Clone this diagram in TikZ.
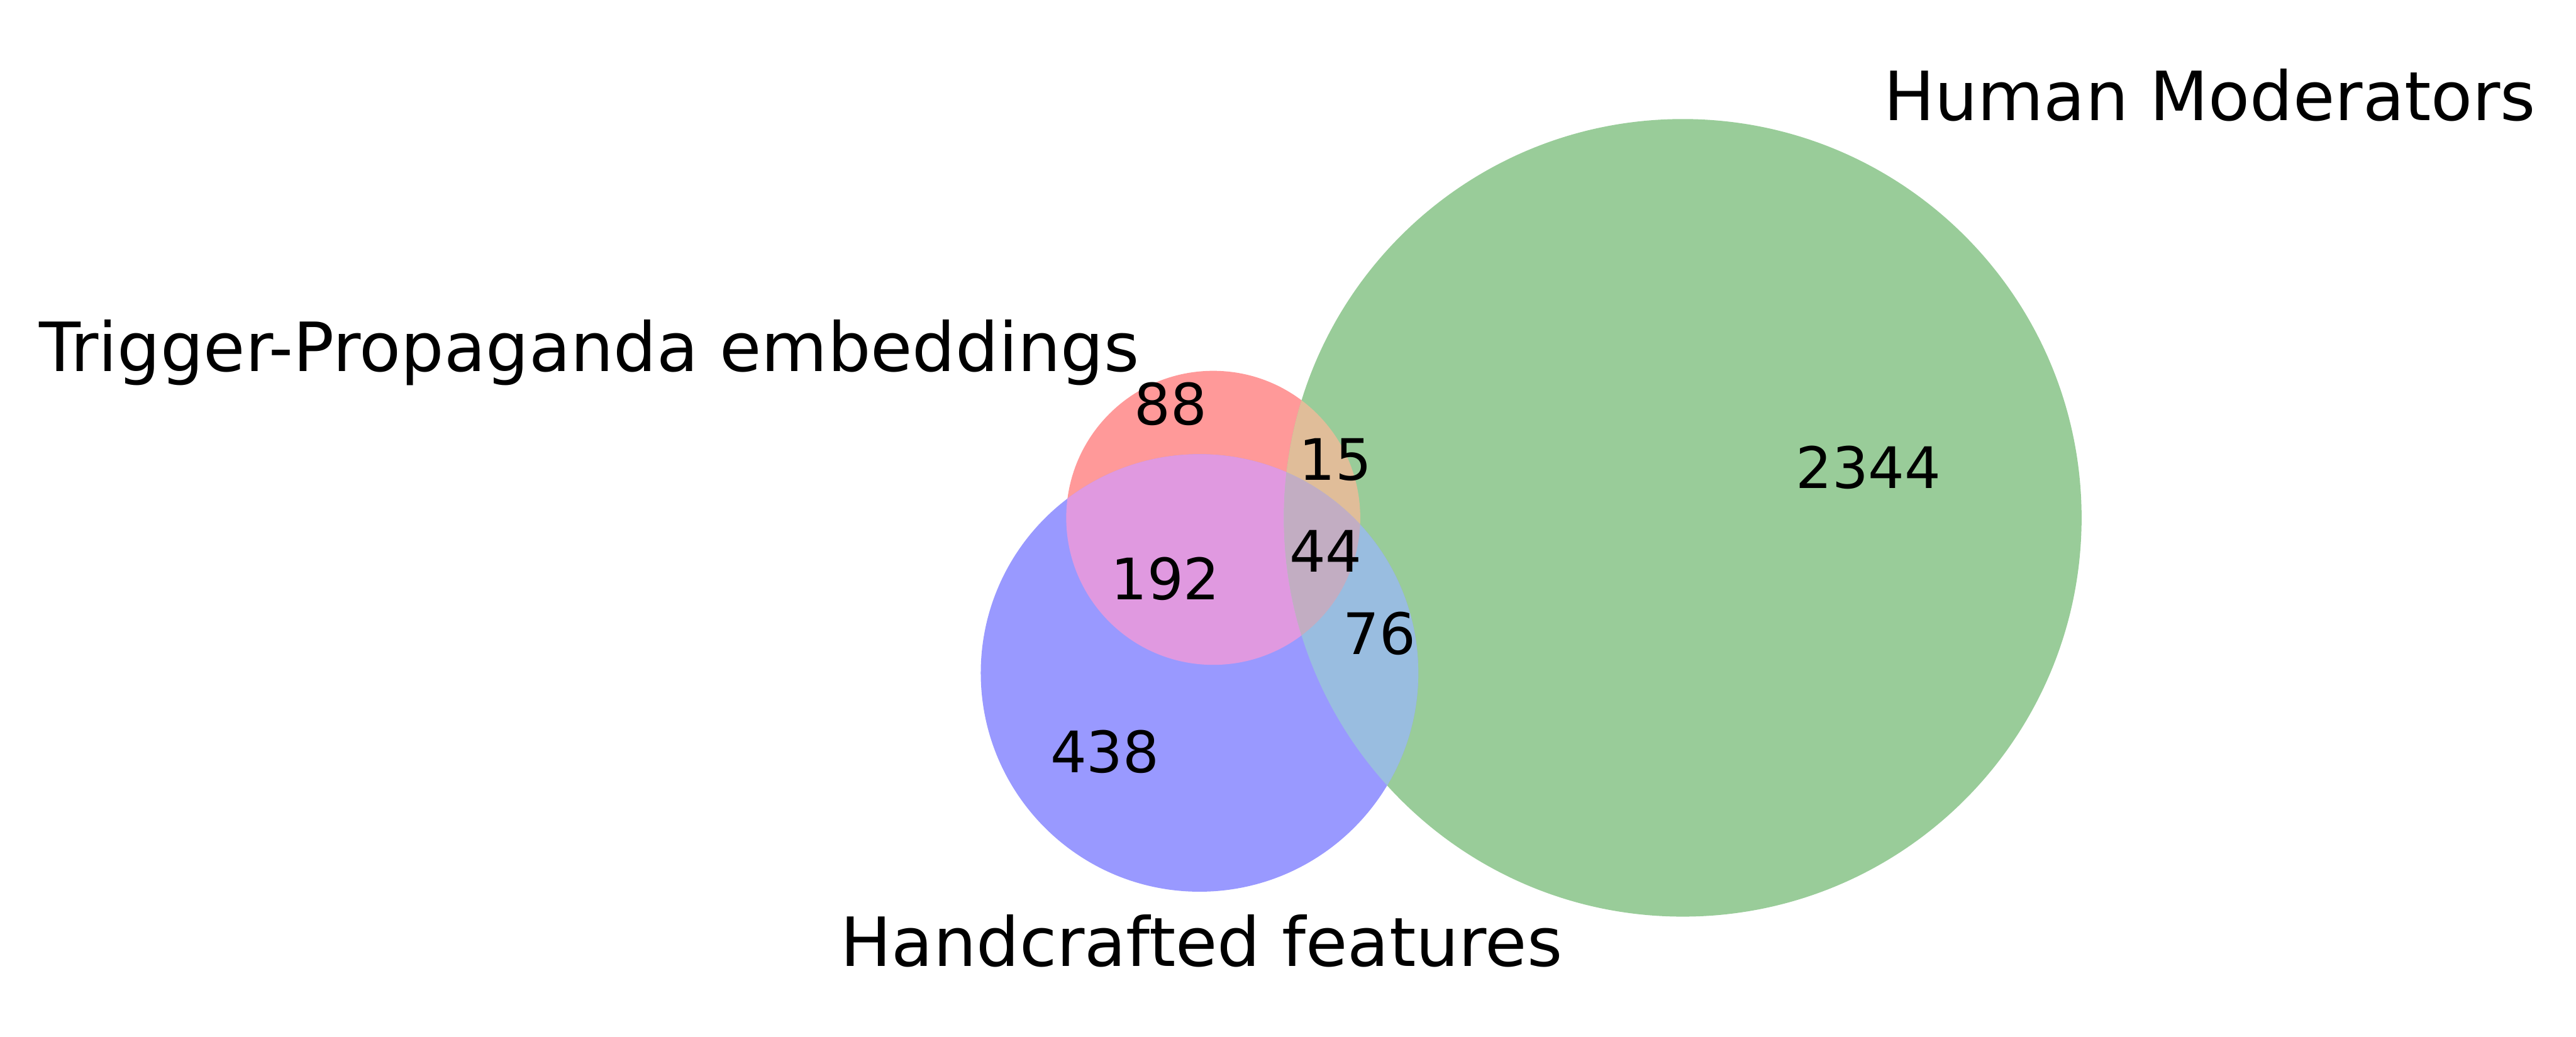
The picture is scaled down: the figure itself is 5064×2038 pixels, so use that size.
\documentclass[tikz,border=0pt]{standalone}
\usepackage{fontspec}
\setmainfont{DejaVu Sans}

\definecolor{trig}{RGB}{255,153,153}
\definecolor{human}{RGB}{153,204,153}
\definecolor{hand}{RGB}{153,153,255}
\definecolor{trighuman}{RGB}{224,189,153}
\definecolor{trighand}{RGB}{224,153,224}
\definecolor{humanhand}{RGB}{153,189,224}
\definecolor{allthree}{RGB}{194,173,194}

\begin{document}
\begin{tikzpicture}[x=0.005cm, y=-0.005cm,
		setname/.style={anchor=base, inner sep=0pt, font=\fontsize{19}{23}\selectfont},
		count/.style={inner sep=0pt, font=\fontsize{16}{19}\selectfont}]
		\useasboundingbox (0, 0) rectangle (5064, 2038);
		\coordinate (ctrig) at (2385, 1018);
		\coordinate (chuman) at (3308, 1018);
		\coordinate (chand) at (2358, 1323);
		\fill [trig] (ctrig) circle (289);
		\fill [human] (chuman) circle (784);
		\fill [hand] (chand) circle (430);
		\begin{scope}
			\clip (ctrig) circle (289);
			\fill [trighand] (chand) circle (430);
			\fill [trighuman] (chuman) circle (784);
		\end{scope}
		\begin{scope}
			\clip (chand) circle (430);
			\fill [humanhand] (chuman) circle (784);
		\end{scope}
		\begin{scope}
			\clip (ctrig) circle (289);
			\clip (chand) circle (430);
			\fill [allthree] (chuman) circle (784);
		\end{scope}
		\node [setname] (tname) at (1158, 730) {Trigger-Propaganda embeddings};
		\node [setname] (hmname) at (4344, 237) {Human Moderators};
		\node [setname] (hfname) at (2362, 1899) {Handcrafted features};
		\node [count] (n100) at (2301, 794) {88};
		\node [count] (n110) at (2625, 904) {15};
		\node [count] (n010) at (3673, 919) {2344};
		\node [count] (n111) at (2606, 1084) {44};
		\node [count] (n101) at (2291, 1138) {192};
		\node [count] (n011) at (2712, 1246) {76};
		\node [count] (n001) at (2172, 1478) {438};
	\end{tikzpicture}
\end{document}
